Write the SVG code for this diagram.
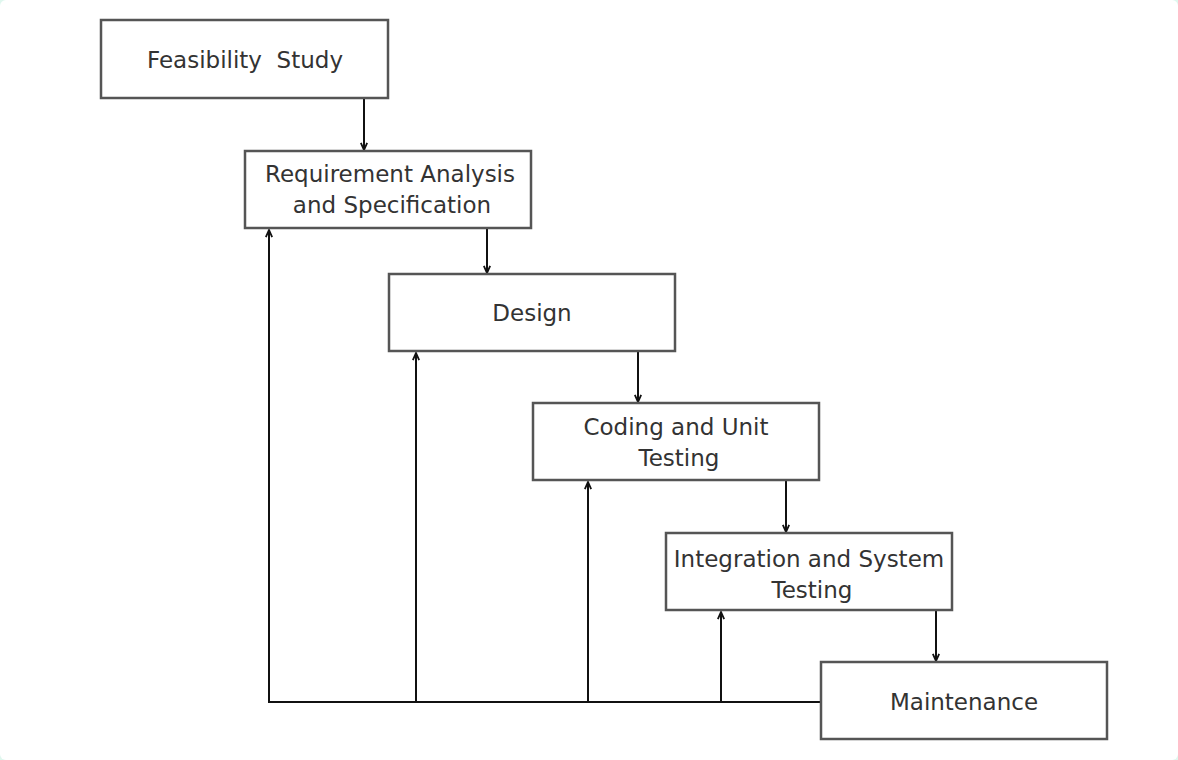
<svg xmlns="http://www.w3.org/2000/svg" width="1178" height="760" viewBox="0 0 1178 760">
<style>
.box{fill:#fff;stroke:#555;stroke-width:2.5}
.t{font-family:"DejaVu Sans","Liberation Sans",sans-serif;font-size:23px;fill:#333;text-anchor:middle}
.c{fill:none;stroke:#111;stroke-width:2}
</style>
<defs>
<marker id="ah" viewBox="0 0 10 10" refX="9" refY="5" markerWidth="9" markerHeight="9" orient="auto" markerUnits="userSpaceOnUse">
<path d="M1,1.5 L9,5 L1,8.5" fill="none" stroke="#111" stroke-width="2"/>
</marker>
</defs>
<rect x="0" y="0" width="1178" height="760" fill="#dff7ee"/>
<rect x="0" y="0" width="1178" height="760" rx="6" fill="#fff"/>
<g id="connectors">
<line class="c" x1="364" y1="99" x2="364" y2="150" marker-end="url(#ah)"/>
<line class="c" x1="487" y1="229" x2="487" y2="273" marker-end="url(#ah)"/>
<line class="c" x1="638" y1="352" x2="638" y2="402" marker-end="url(#ah)"/>
<line class="c" x1="786" y1="481" x2="786" y2="532" marker-end="url(#ah)"/>
<line class="c" x1="936" y1="611" x2="936" y2="661" marker-end="url(#ah)"/>
<polyline class="c" points="821,702 269,702 269,230" marker-end="url(#ah)"/>
<line class="c" x1="416" y1="702" x2="416" y2="353" marker-end="url(#ah)"/>
<line class="c" x1="588" y1="702" x2="588" y2="482" marker-end="url(#ah)"/>
<line class="c" x1="721" y1="702" x2="721" y2="612" marker-end="url(#ah)"/>
</g>
<g id="feasibility">
<rect class="box" x="101" y="20" width="287" height="78"/>
<text class="t" x="245" y="68" xml:space="preserve">Feasibility  Study</text>
</g>
<g id="requirement">
<rect class="box" x="245" y="151" width="286" height="77"/>
<text class="t" x="390" y="182">Requirement Analysis</text>
<text class="t" x="392" y="213">and Specification</text>
</g>
<g id="design">
<rect class="box" x="389" y="274" width="286" height="77"/>
<text class="t" x="532" y="321">Design</text>
</g>
<g id="coding">
<rect class="box" x="533" y="403" width="286" height="77"/>
<text class="t" x="676" y="435">Coding and Unit</text>
<text class="t" x="679" y="466">Testing</text>
</g>
<g id="integration">
<rect class="box" x="666" y="533" width="286" height="77"/>
<text class="t" x="809" y="567">Integration and System</text>
<text class="t" x="812" y="598">Testing</text>
</g>
<g id="maintenance">
<rect class="box" x="821" y="662" width="286" height="77"/>
<text class="t" x="964" y="710">Maintenance</text>
</g>
</svg>
